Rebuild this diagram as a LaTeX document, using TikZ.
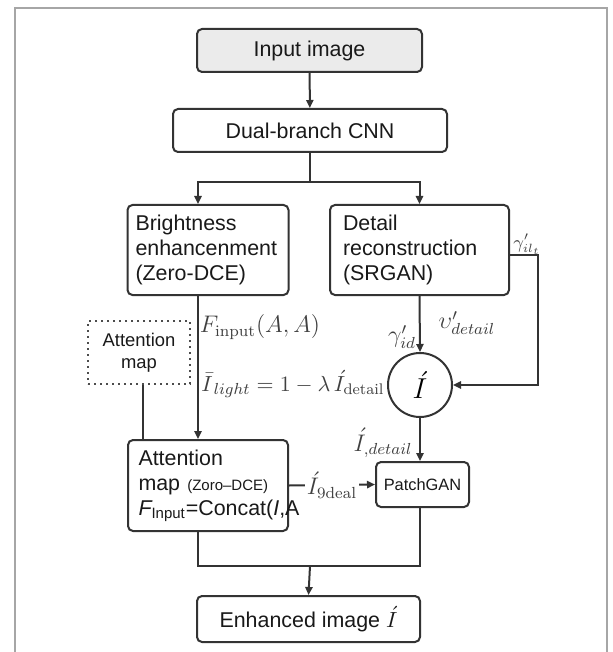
\documentclass[tikz,border=0pt]{standalone}
\usepackage{fontspec}
\setsansfont{Liberation Sans}
\usepackage{tikz}
\usetikzlibrary{arrows.meta,calc}

\begin{document}
\begin{tikzpicture}[x=0.5pt,y=-0.5pt,line width=1pt,
    blk/.style={draw=black!80,rounded corners=2.5pt,inner sep=0pt,text=black!90,
        font=\sffamily\fontsize{10.7}{12.5}\selectfont},
    wire/.style={black!80},
    arr/.style={black!80,-{Triangle[length=4pt,width=3.6pt]}},
    lbl/.style={inner sep=1pt,text=black!75,font=\fontsize{11.5}{13}\selectfont}
]
    \useasboundingbox (0,0) rectangle (613,652);
    %% outer frame
    \draw[black!35,line width=0.6pt] (15,652) -- (15,8) -- (607,8) -- (607,652);

    %% boxes
    \node[blk,fill=black!8,minimum width=112.5pt,minimum height=21.5pt] (input) at (309.5,50.5) {Input image};
    \node[blk,minimum width=137pt,minimum height=21.5pt] (dual) at (310,130.5) {Dual-branch CNN};
    \node[blk,align=left,text width=72.5pt,inner xsep=4pt,minimum height=45pt] (bright) at (208,250)
        {Brightness\\enhancenment\\(Zero-DCE)};
    \node[blk,align=left,text width=76.5pt,inner xsep=6.5pt,minimum height=45pt] (detail) at (419.5,250)
        {Detail\\reconstruction\\(SRGAN)};
    \node[blk,rounded corners=0pt,dotted,draw=black!70,align=center,minimum width=51pt,minimum height=31.5pt,
        font=\sffamily\fontsize{9.2}{11}\selectfont] (amap) at (139,352.5) {Attention\\map};
    \node[draw=black!80,circle,minimum size=32pt,inner sep=0pt,font=\fontsize{15}{15}\selectfont] (circ) at (420,385) {$\acute{I}$};
    \node[blk,align=left,text width=69.5pt,inner xsep=5.25pt,minimum height=45.5pt] (attn) at (208,485.5)
        {Attention\\map {\fontsize{7.5}{9}\selectfont(Zoro--DCE)}\\
         {\itshape F}\textsubscript{Input}=Concat({\itshape I},A};
    \node[blk,minimum width=46.5pt,minimum height=22.5pt,font=\sffamily\fontsize{8.2}{10}\selectfont] (patch) at (422.5,484.5) {PatchGAN};
    \node[blk,minimum width=111.5pt,minimum height=23pt] (enh) at (308.5,619) {Enhanced image $\acute{I}$};

    %% helper points
    \coordinate (lcol) at (198,0);
    \coordinate (split) at (310,182);
    \coordinate (rtop) at (538,255);
    \coordinate (join) at (310,566);

    %% connectors
    \draw[arr] (input) -- (dual);
    \draw[wire] (dual.south) -- (split);
    \draw[arr] (split) -| (lcol |- bright.north);
    \draw[arr] (split) -| (detail.north);
    \draw[arr] (lcol |- bright.south) -- (lcol |- attn.north);
    \draw[wire] ([xshift=2pt]amap.south) -- ([xshift=2pt]amap.south |- attn.north);
    \draw[arr] (detail.south) -- (circ.north);
    \draw[arr] ([yshift=-2.5pt]detail.east) -- (rtop) |- (circ.east);
    \draw[arr] (circ.south) -- (circ.south |- patch.north);
    \draw[arr] (attn.east) -- node[lbl,fill=white] (lideal) {$\acute{I}_{9\mathrm{deal}}$} (patch.west);
    \draw[wire] (lcol |- attn.south) |- (join);
    \draw[wire] (circ |- patch.south) |- (join);
    \draw[arr] (join) -- (enh.north);

    %% labels
    \node[lbl] (lfin) at (260,327) {$F_{\mathrm{input}}(A,A)$};
    \node[lbl,font=\fontsize{11}{13}\selectfont] (llight) at (293,384) {$\bar{I}_{\,light}=1-\lambda\,\acute{I}_{\mathrm{detail}}$};
    \node[lbl] (lgid) at (402,337) {$\gamma'_{id}$};
    \node[lbl] (lupd) at (467,323) {$\upsilon'_{detail}$};
    \node[lbl] (lidet) at (383,443) {$\acute{I}_{,detail}$};
    \node[lbl,font=\fontsize{9}{10}\selectfont] (lgil) at (527,244) {$\gamma'_{il_t}$};
\end{tikzpicture}
\end{document}
